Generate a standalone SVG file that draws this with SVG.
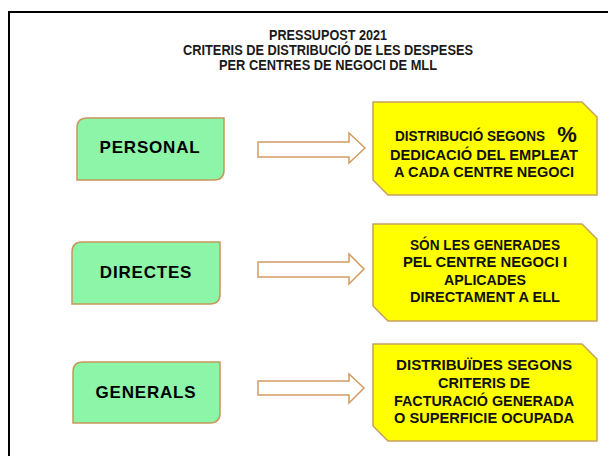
<svg xmlns="http://www.w3.org/2000/svg" width="608" height="456" viewBox="0 0 608 456">
<style>
.frame{fill:#fff;stroke:#000;stroke-width:2}
.green{fill:#8cf5a8;stroke:#c8965a;stroke-width:1.5}
.yellow{fill:#ffff00;stroke:#c8a060;stroke-width:1.5}
.arrow{fill:#fff;stroke:#d49a60;stroke-width:1.5}
.gt{font-family:"Liberation Sans",Arial,sans-serif;font-weight:bold;font-size:17px;fill:#000;text-anchor:middle;letter-spacing:0.8px}
.yt{font-family:"Liberation Sans",Arial,sans-serif;font-weight:bold;font-size:14px;fill:#111;text-anchor:middle}
.tt{font-family:"Liberation Sans",Arial,sans-serif;font-weight:bold;font-size:14px;fill:#1a1a1a;text-anchor:middle}
</style>
<rect width="608" height="456" fill="#fff"/>
<rect class="frame" x="9" y="12" width="620" height="460"/>
<g id="title">
<text class="tt" x="328" y="40" textLength="118" lengthAdjust="spacingAndGlyphs">PRESSUPOST 2021</text>
<text class="tt" x="328" y="55" textLength="290" lengthAdjust="spacingAndGlyphs">CRITERIS DE DISTRIBUCIÓ DE LES DESPESES</text>
<text class="tt" x="328" y="70" textLength="218" lengthAdjust="spacingAndGlyphs">PER CENTRES DE NEGOCI DE MLL</text>
</g>
<g id="personal">
<path class="green" d="M87,118 H224 V170 Q224,180 214,180 H77 V128 Q77,118 87,118 Z"/>
<text class="gt" x="150" y="153">PERSONAL</text>
</g>
<g id="directes">
<path class="green" d="M82,242 H220 V294 Q220,304 210,304 H72 V252 Q72,242 82,242 Z"/>
<text class="gt" x="146" y="278">DIRECTES</text>
</g>
<g id="generals">
<path class="green" d="M83,362 H220 V413 Q220,423 210,423 H73 V372 Q73,362 83,362 Z"/>
<text class="gt" x="146" y="398">GENERALS</text>
</g>
<g id="connectors">
<polygon class="arrow" points="258,142 349,142 349,133 365,148 349,163 349,157 258,157"/>
<polygon class="arrow" points="258,262 349,262 349,254 364,269 349,284 349,277 258,277"/>
<polygon class="arrow" points="258,381 349,381 349,374 364,388 349,403 349,395 258,395"/>
</g>
<g id="box1">
<polygon class="yellow" points="373,102 582,102 597,117 597,195 388,195 373,180"/>
<text class="yt" x="470" y="141" textLength="150" lengthAdjust="spacingAndGlyphs">DISTRIBUCIÓ  SEGONS</text>
<text x="567" y="142" font-family="Liberation Sans,Arial,sans-serif" font-weight="bold" font-size="22" fill="#111" text-anchor="middle">%</text>
<text class="yt" x="484" y="160" textLength="188" lengthAdjust="spacingAndGlyphs">DEDICACIÓ  DEL EMPLEAT</text>
<text class="yt" x="484" y="177" textLength="180" lengthAdjust="spacingAndGlyphs">A CADA CENTRE  NEGOCI</text>
</g>
<g id="box2">
<polygon class="yellow" points="373,224 582,224 597,239 597,321 388,321 373,306"/>
<text class="yt" x="485" y="250" textLength="150" lengthAdjust="spacingAndGlyphs">SÓN LES GENERADES</text>
<text class="yt" x="485" y="267" textLength="164" lengthAdjust="spacingAndGlyphs">PEL CENTRE  NEGOCI  I</text>
<text class="yt" x="485" y="285" textLength="82" lengthAdjust="spacingAndGlyphs">APLICADES</text>
<text class="yt" x="485" y="302" textLength="150" lengthAdjust="spacingAndGlyphs">DIRECTAMENT  A ELL</text>
</g>
<g id="box3">
<polygon class="yellow" points="373,344 582,344 597,359 597,441 388,441 373,426"/>
<text class="yt" x="484" y="370" textLength="176" lengthAdjust="spacingAndGlyphs">DISTRIBUÏDES  SEGONS</text>
<text class="yt" x="484" y="388" textLength="92" lengthAdjust="spacingAndGlyphs">CRITERIS  DE</text>
<text class="yt" x="484" y="406" textLength="180" lengthAdjust="spacingAndGlyphs">FACTURACIÓ  GENERADA</text>
<text class="yt" x="484" y="423" textLength="180" lengthAdjust="spacingAndGlyphs">O SUPERFICIE  OCUPADA</text>
</g>
</svg>
